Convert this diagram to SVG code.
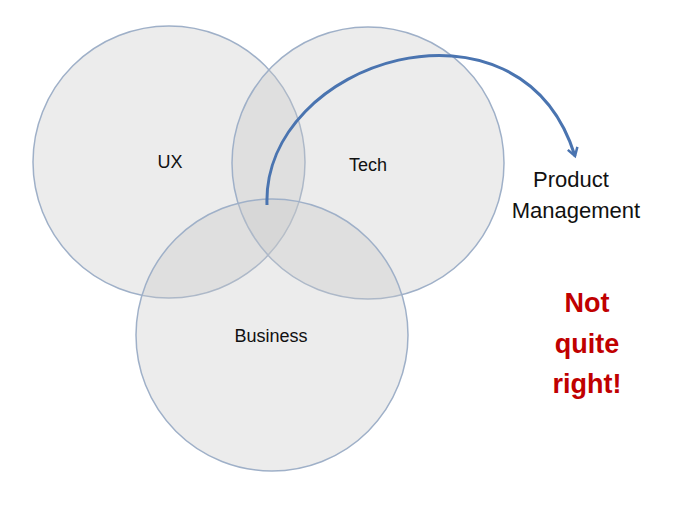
<svg xmlns="http://www.w3.org/2000/svg" width="679" height="509" viewBox="0 0 679 509">
<style>
.c{fill:#c8c8c8;fill-opacity:0.35;stroke:#9fb0c8;stroke-width:1.5}
.l{font-family:"Liberation Sans",Arial,sans-serif;font-size:18px;fill:#111;text-anchor:middle}
.p{font-family:"Liberation Sans",Arial,sans-serif;font-size:22px;fill:#111;text-anchor:middle}
.r{font-family:"Liberation Sans",Arial,sans-serif;font-size:27px;font-weight:bold;fill:#c00000;text-anchor:middle}
</style>
<defs><marker id="a" markerWidth="12" markerHeight="12" refX="9" refY="6" orient="auto" markerUnits="userSpaceOnUse"><path d="M1,1 L9,6 L1,11" fill="none" stroke="#4a74b0" stroke-width="2.5"/></marker></defs>
<rect width="679" height="509" fill="#fff"/>
<g id="ux"><circle class="c" cx="169" cy="162" r="136"/><text class="l" x="170" y="168">UX</text></g>
<g id="tech"><circle class="c" cx="368" cy="163" r="136"/><text class="l" x="368" y="171">Tech</text></g>
<g id="business"><circle class="c" cx="272" cy="335" r="136"/><text class="l" x="271" y="342">Business</text></g>
<g id="connectors"><path d="M267,205 C262,60 520,-20 575,156" fill="none" stroke="#4a74b0" stroke-width="3" marker-end="url(#a)"/></g>
<g id="pm"><text class="p" x="571" y="187">Product</text><text class="p" x="576" y="218">Management</text></g>
<g id="note"><text class="r" x="587" y="312">Not</text><text class="r" x="587" y="353">quite</text><text class="r" x="587" y="393">right!</text></g>
</svg>
